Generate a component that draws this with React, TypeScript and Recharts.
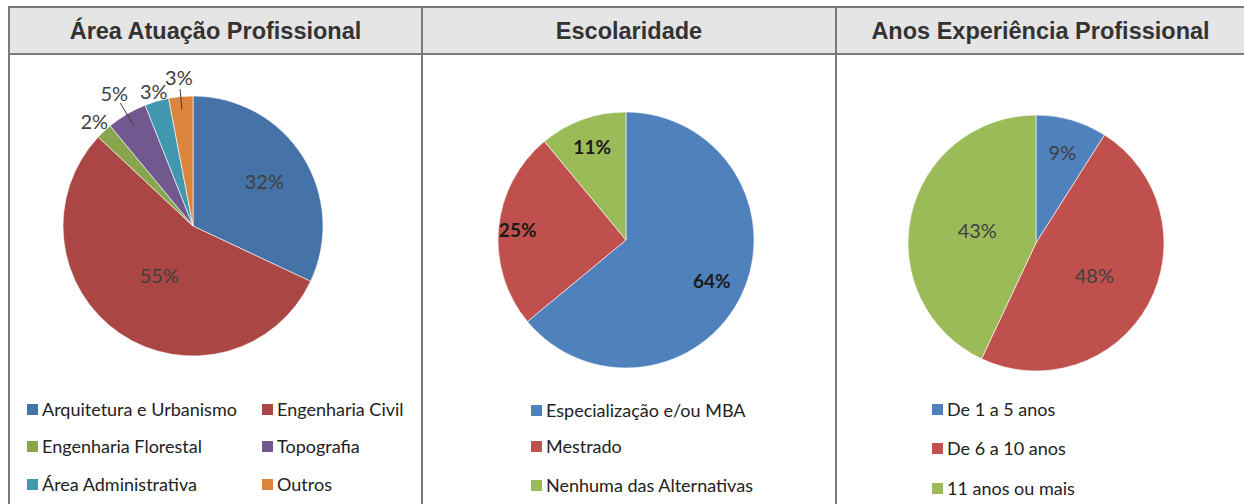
import React from "react";
import { PieChart, Pie, Cell, Legend } from "recharts";

// data
const areaNames = ["Arquitetura e Urbanismo", "Engenharia Civil", "Engenharia Florestal", "Topografia", "Área Administrativa", "Outros"];
const areaValues = [32, 55, 2, 5, 3, 3];

const escNames = ["Especialização e/ou MBA", "Mestrado", "Nenhuma das Alternativas"];
const escValues = [64, 25, 11];

const anosNames = ["De 1 a 5 anos", "De 6 a 10 anos", "11 anos ou mais"];
const anosValues = [9, 48, 43];

// colours
const OLD_XL = ["#4572A7", "#AA4643", "#89A54E", "#71588F", "#4198AF", "#DB843D"];
const NEW_XL = ["#4F81BD", "#C0504D", "#9BBB59"];

const FONT = "Lato, 'Open Sans', sans-serif";
const TITLE_FONT = "'Liberation Sans', Arial, sans-serif";
const LINE = "#7a7a7a";
const RAD = Math.PI / 180;

type LegendPos = { x: number; y: number };

type BlockProps = {
  title: string;
  names: string[];
  values: number[];
  colors: string[];
  left: number;
  width: number;
  cx: number;
  cy: number;
  radius: number;
  labelRatios: number[];
  leaderLines?: number[];
  labelStyle: React.SVGProps<SVGTextElement>;
  legendPos: LegendPos[];
};

function makeLabel(ratios: number[], lines: number[], style: React.SVGProps<SVGTextElement>) {
  // eslint-disable-next-line @typescript-eslint/no-explicit-any
  return (p: any) => {
    const ang = -p.midAngle * RAD;
    const r = p.outerRadius * ratios[p.index];
    const x = p.cx + r * Math.cos(ang);
    const y = p.cy + r * Math.sin(ang);
    const hasLine = lines.includes(p.index);
    const r1 = p.outerRadius * 0.9;
    const r2 = r - 12;
    return (
      <g key={`lbl-${p.index}`}>
        {hasLine && (
          <line
            x1={p.cx + r1 * Math.cos(ang)}
            y1={p.cy + r1 * Math.sin(ang)}
            x2={p.cx + r2 * Math.cos(ang)}
            y2={p.cy + r2 * Math.sin(ang)}
            stroke="#404040"
            strokeWidth={1}
          />
        )}
        <text x={x} y={y} textAnchor="middle" dominantBaseline="central" {...style}>
          {p.value}%
        </text>
      </g>
    );
  };
}

function PieBlock(props: BlockProps) {
  const data = props.names.map((n, i) => ({ name: n, value: props.values[i] }));
  const chartH = 451;
  return (
    <div style={{ position: "absolute", left: props.left, top: 0, width: props.width, height: 504 }}>
      <div
        style={{
          position: "absolute",
          left: 0,
          top: 8,
          width: props.width,
          height: 46,
          lineHeight: "46px",
          textAlign: "center",
          fontFamily: TITLE_FONT,
          fontWeight: 700,
          fontSize: 23.5,
          color: "#333",
        }}
      >
        {props.title}
      </div>
      <div style={{ position: "absolute", left: 0, top: 53 }}>
        <PieChart width={props.width} height={chartH} margin={{ top: 0, right: 0, bottom: 0, left: 0 }}>
          <Pie
            data={data}
            dataKey="value"
            nameKey="name"
            cx={props.cx}
            cy={props.cy}
            outerRadius={props.radius}
            startAngle={90}
            endAngle={-270}
            stroke="#ffffff"
            strokeWidth={0.6}
            isAnimationActive={false}
            labelLine={false}
            label={makeLabel(props.labelRatios, props.leaderLines ?? [], props.labelStyle)}
          >
            {data.map((d, i) => (
              <Cell key={d.name} fill={props.colors[i]} />
            ))}
          </Pie>
          <Legend
            wrapperStyle={{ position: "absolute", left: 0, top: 0, width: props.width, height: chartH }}
            content={() => (
              <div style={{ position: "relative", width: props.width, height: chartH }}>
                {props.names.map((n, i) => (
                  <div
                    key={n}
                    style={{
                      position: "absolute",
                      left: props.legendPos[i].x,
                      top: props.legendPos[i].y - 53 - 11,
                      height: 22,
                      display: "flex",
                      alignItems: "center",
                      fontFamily: FONT,
                      fontSize: 18,
                      color: "#222",
                      whiteSpace: "nowrap",
                    }}
                  >
                    <span style={{ width: 11, height: 11, background: props.colors[i], marginRight: 4, display: "inline-block" }} />
                    {n}
                  </div>
                ))}
              </div>
            )}
          />
        </PieChart>
      </div>
    </div>
  );
}

export default function App() {
  return (
    <div style={{ position: "fixed", left: 0, top: 0, width: 1244, height: 504, background: "#fff", overflow: "hidden" }}>
      {/* header band */}
      <div style={{ position: "absolute", left: 9, top: 6, width: 1240, height: 47, background: "#e5e5e5" }} />
      {/* table lines */}
      <div style={{ position: "absolute", left: 8, top: 6, width: 1240, height: 2, background: LINE }} />
      <div style={{ position: "absolute", left: 8, top: 53, width: 1240, height: 1.5, background: LINE }} />
      <div style={{ position: "absolute", left: 8, top: 6, width: 2, height: 498, background: LINE }} />
      <div style={{ position: "absolute", left: 421, top: 6, width: 1.5, height: 498, background: LINE }} />
      <div style={{ position: "absolute", left: 835, top: 6, width: 1.5, height: 498, background: LINE }} />

      <PieBlock
        title="Área Atuação Profissional"
        names={areaNames}
        values={areaValues}
        colors={OLD_XL}
        left={10}
        width={411}
        cx={183}
        cy={173}
        radius={130}
        labelRatios={[0.65, 0.46, 1.11, 1.19, 1.08, 1.15]}
        leaderLines={[3, 5]}
        labelStyle={{ fontFamily: FONT, fontSize: 20, fill: "#404040" }}
        legendPos={[
          { x: 17, y: 409 },
          { x: 252, y: 409 },
          { x: 17, y: 446 },
          { x: 252, y: 446 },
          { x: 17, y: 484 },
          { x: 252, y: 484 },
        ]}
      />
      <PieBlock
        title="Escolaridade"
        names={escNames}
        values={escValues}
        colors={NEW_XL}
        left={423}
        width={412}
        cx={203}
        cy={187}
        radius={128}
        labelRatios={[0.74, 0.85, 0.78]}
        labelStyle={{ fontFamily: FONT, fontSize: 19, fontWeight: 700, fill: "#1a1a1a" }}
        legendPos={[
          { x: 108, y: 410 },
          { x: 108, y: 446 },
          { x: 108, y: 485 },
        ]}
      />
      <PieBlock
        title="Anos Experiência Profissional"
        names={anosNames}
        values={anosValues}
        colors={NEW_XL}
        left={837}
        width={407}
        cx={199}
        cy={190}
        radius={128}
        labelRatios={[0.74, 0.52, 0.47]}
        labelStyle={{ fontFamily: FONT, fontSize: 20, fill: "#404040" }}
        legendPos={[
          { x: 95, y: 409 },
          { x: 95, y: 448 },
          { x: 95, y: 488 },
        ]}
      />
    </div>
  );
}
